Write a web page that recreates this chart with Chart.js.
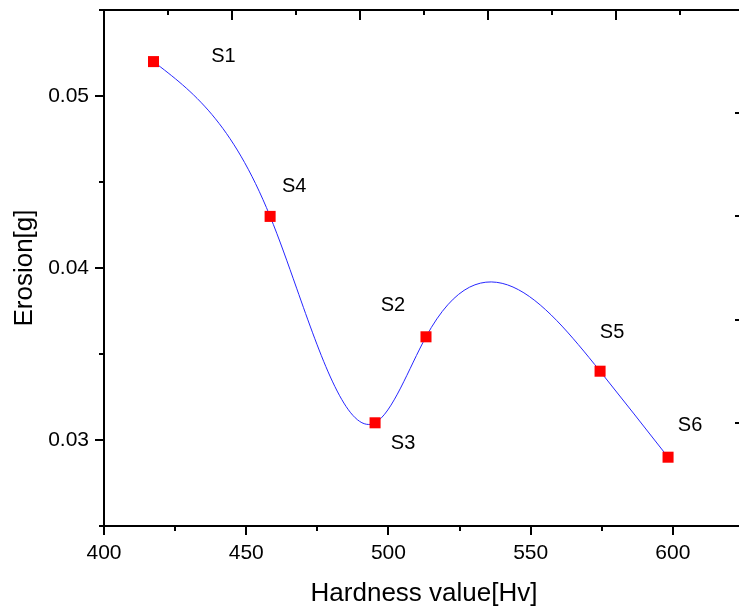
<!DOCTYPE html>
<html>
<head>
<meta charset="utf-8">
<script src="https://cdn.jsdelivr.net/npm/chart.js@4.4.1/dist/chart.umd.min.js"></script>
<style>
  html, body { margin: 0; padding: 0; background: #fff; overflow: hidden; width: 739px; height: 609px; }
  canvas { display: block; }
</style>
</head>
<body>
<canvas id="c" width="745" height="609"></canvas>
<script>
/* ============================================================
   DATA
   ============================================================ */
const samples  = ["S1", "S4", "S3", "S2", "S5", "S6"];
const hardness = [417.4, 458.4, 495.3, 513.2, 574.4, 598.3];
const erosion  = [0.052, 0.043, 0.031, 0.036, 0.034, 0.029];
const xTicks   = [400, 450, 500, 550, 600];
const yTicks   = [0.03, 0.04, 0.05];

const FONT = '"Liberation Sans", Arial, sans-serif';

// label offsets from each marker, in px
const labelOffset = {
  S1: [70, -5], S4: [24, -30], S3: [28, 21],
  S2: [-33, -31], S5: [12, -39], S6: [22, -32],
};

/* ============================================================
   SPLINE (natural cubic, like Origin's "Spline" connect)
   ============================================================ */
function naturalSlopes(xs, ys) {
  const n = xs.length;
  const h = [], d = [];
  for (let i = 0; i < n - 1; i++) {
    h.push(xs[i + 1] - xs[i]);
    d.push((ys[i + 1] - ys[i]) / h[i]);
  }
  const M = new Array(n).fill(0);
  const a = [], b = [], c = [], r = [];
  for (let i = 1; i < n - 1; i++) {
    a.push(h[i - 1]); b.push(2 * (h[i - 1] + h[i])); c.push(h[i]);
    r.push(6 * (d[i] - d[i - 1]));
  }
  const m = b.length;
  for (let i = 1; i < m; i++) {
    const w = a[i] / b[i - 1];
    b[i] -= w * c[i - 1];
    r[i] -= w * r[i - 1];
  }
  for (let i = m - 1; i >= 0; i--) {
    M[i + 1] = (r[i] - (i < m - 1 ? c[i] * M[i + 2] : 0)) / b[i];
  }
  const s = [];
  for (let i = 0; i < n - 1; i++) s.push(d[i] - h[i] * (2 * M[i] + M[i + 1]) / 6);
  s.push(d[n - 2] + h[n - 2] * (M[n - 2] + 2 * M[n - 1]) / 6);
  return s;
}

// replace chart.js bezier control points with the exact spline ones
const splinePlugin = {
  id: "spline",
  beforeDatasetsDraw(chart) {
    const meta = chart.getDatasetMeta(0);
    const pts = meta.data;
    const sx = chart.scales.x, sy = chart.scales.y;
    meta.dataset.updateControlPoints(chart.chartArea, "x");
    const s = naturalSlopes(hardness, erosion);
    const n = pts.length;
    for (let i = 0; i < n; i++) {
      if (i > 0) {
        const h = (hardness[i] - hardness[i - 1]) / 3;
        pts[i].cp1x = sx.getPixelForValue(hardness[i] - h);
        pts[i].cp1y = sy.getPixelForValue(erosion[i] - s[i] * h);
      }
      if (i < n - 1) {
        const h = (hardness[i + 1] - hardness[i]) / 3;
        pts[i].cp2x = sx.getPixelForValue(hardness[i] + h);
        pts[i].cp2y = sy.getPixelForValue(erosion[i] + s[i] * h);
      }
    }
    meta.dataset._path = undefined;
  },
};

/* ============================================================
   FRAME TICKS (out on bottom/left, in on top/right)
   ============================================================ */
const frameTicks = {
  id: "frameTicks",
  afterDraw(chart) {
    const { ctx, chartArea: a, scales } = chart;
    ctx.save();
    ctx.strokeStyle = "#000";
    ctx.lineWidth = 2;
    const seg = (x1, y1, x2, y2) => {
      ctx.beginPath(); ctx.moveTo(x1, y1); ctx.lineTo(x2, y2); ctx.stroke();
    };
    for (let k = 400; k <= 625; k += 25) {
      const x = Math.round(scales.x.getPixelForValue(k));
      seg(x, a.bottom, x, a.bottom + (k % 50 === 0 ? 9 : 5));
    }
    for (let k = 25; k <= 55; k += 5) {
      const y = Math.round(scales.y.getPixelForValue(k / 1000));
      seg(a.left, y, a.left - (k % 10 === 0 ? 9 : 5), y);
    }
    for (let k = 0; k <= 10; k++) {
      const x = Math.round(scales.x2.getPixelForValue(k));
      seg(x, a.top, x, a.top + (k % 2 === 0 ? 10 : 5));
    }
    for (let k = 0; k <= 5; k++) {
      const y = Math.round(scales.y2.getPixelForValue(k));
      seg(a.right, y, a.right - 9, y);
    }
    ctx.restore();
  },
};

/* ============================================================
   SAMPLE LABELS
   ============================================================ */
const sampleLabels = {
  id: "sampleLabels",
  afterDatasetsDraw(chart) {
    const { ctx } = chart;
    const pts = chart.getDatasetMeta(0).data;
    ctx.save();
    ctx.font = `20px ${FONT}`;
    ctx.fillStyle = "#000";
    ctx.textAlign = "center";
    ctx.textBaseline = "middle";
    samples.forEach((name, i) => {
      const o = labelOffset[name];
      ctx.fillText(name, pts[i].x + o[0], pts[i].y + o[1]);
    });
    ctx.restore();
  },
};

// fixed box sizes so the plot area sits where the reference has it
const fixSize = (w, h) => s => {
  if (w != null) s.width = w;
  if (h != null) s.height = h;
  s.paddingTop = s.paddingBottom = s.paddingLeft = s.paddingRight = 0;
};

/* ============================================================
   CHART
   ============================================================ */
new Chart(document.getElementById("c"), {
  type: "line",
  data: {
    labels: samples,
    datasets: [{
      data: hardness.map((x, i) => ({ x, y: erosion[i] })),
      borderColor: "#2626ff",
      borderWidth: 1,
      tension: 0.4,
      fill: false,
      pointStyle: "rect",
      pointRadius: 7.8,
      pointHoverRadius: 7.8,
      pointBackgroundColor: "#ff0000",
      pointBorderWidth: 0,
    }],
  },
  options: {
    responsive: false,
    animation: false,
    events: [],
    layout: { padding: 0, autoPadding: false },
    plugins: { legend: { display: false }, tooltip: { enabled: false } },
    scales: {
      x: {
        type: "linear", position: "bottom", min: 400, max: 625,
        afterBuildTicks: s => { s.ticks = xTicks.map(v => ({ value: v })); },
        afterFit: fixSize(null, 83),
        grid: { display: false, tickLength: 9 },
        border: { display: true, color: "#000", width: 2 },
        ticks: { color: "#000", font: { family: FONT, size: 21 }, padding: 6, maxRotation: 0, autoSkip: false },
        title: { display: true, text: "Hardness value[Hv]", color: "#000",
                 font: { family: FONT, size: 26 }, padding: { top: 0, bottom: 0 } },
      },
      y: {
        type: "linear", position: "left", min: 0.025, max: 0.055,
        afterBuildTicks: s => { s.ticks = yTicks.map(v => ({ value: v })); },
        afterFit: fixSize(104, null),
        grid: { display: false, tickLength: 9 },
        border: { display: true, color: "#000", width: 2 },
        ticks: { color: "#000", font: { family: FONT, size: 21 }, padding: 6,
                 callback: v => v.toFixed(2) },
        title: { display: true, text: "Erosion[g]", color: "#000",
                 font: { family: FONT, size: 26 }, padding: { top: 9, bottom: 0 } },
      },
      x2: {
        type: "linear", position: "top", min: 0, max: 10,
        afterFit: fixSize(null, 10),
        grid: { display: false },
        border: { display: true, color: "#000", width: 2 },
        ticks: { display: false },
      },
      y2: {
        type: "linear", position: "right", min: 0, max: 5,
        afterFit: fixSize(1, null),
        grid: { display: false },
        border: { display: true, color: "#000", width: 2 },
        ticks: { display: false },
      },
    },
  },
  plugins: [splinePlugin, frameTicks, sampleLabels],
});
</script>
</body>
</html>
